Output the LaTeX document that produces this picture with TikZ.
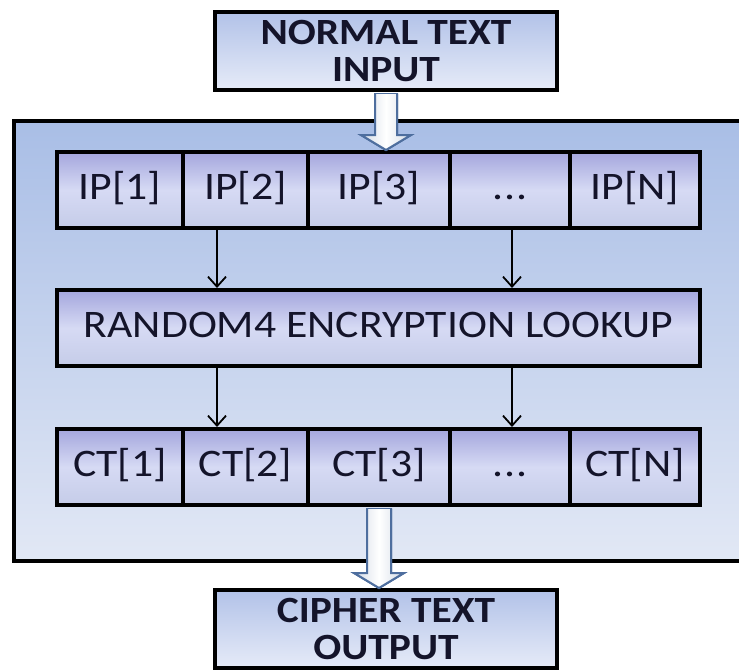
\documentclass[tikz,border=0pt]{standalone}
\usepackage{fontspec}
\setmainfont{Carlito}[FakeStretch=1.12]
\usetikzlibrary{arrows.meta,calc}
\definecolor{txt}{HTML}{14142A}
\definecolor{outtop}{HTML}{A9BEE6}
\definecolor{outbot}{HTML}{E2E8F5}
\definecolor{celltop}{HTML}{A4A6DD}
\definecolor{cellmid}{HTML}{D6DAF4}
\definecolor{cellbot}{HTML}{C5CCE8}
\definecolor{iotop}{HTML}{B2C2E8}
\definecolor{iobot}{HTML}{E6EBF8}
\definecolor{hollow}{HTML}{4E6E9E}
\begin{document}
\begin{tikzpicture}[x=1pt,y=-1pt,
  outerbox/.style={draw=black,line width=4pt,top color=outtop,bottom color=outbot,
    minimum width=760pt,minimum height=440pt,anchor=north west,inner sep=0pt},
  cell/.style={draw=black,line width=4pt,top color=celltop,bottom color=cellbot,middle color=cellmid,
    minimum height=76pt,inner sep=0pt,text=txt,font=\fontsize{39}{42}\selectfont,
    text height=27pt,text depth=8pt},
  iobox/.style={draw=black,line width=4pt,top color=iotop,bottom color=iobot,
    minimum width=342pt,minimum height=78pt,inner sep=0pt,align=center,text=txt,
    font=\bfseries\fontsize{37}{37}\selectfont},
  thin/.style={draw=black,line width=1.8pt,-{Straight Barb[length=10pt,width=18pt,line width=1.8pt]}},
  hollowarrow/.style={draw=hollow,line width=2pt,left color=hollow!25,right color=hollow!25,middle color=white,line join=miter}
]
\useasboundingbox (0,0) rectangle (739,670);
\begin{scope}
\clip (0,0) rectangle (739,670);
\node[outerbox] (outer) at (12,119) {};
\end{scope}

% input / output boxes
\node[iobox] (in) at (386,51) {NORMAL TEXT\\INPUT};
\node[iobox] (out) at (386,629) {CIPHER TEXT\\OUTPUT};

% IP row
\node[cell,minimum width=126pt] (ip1) at (120,190) {IP[1]};
\node[cell,minimum width=125pt] (ip2) at (245.5,190) {IP[2]};
\node[cell,minimum width=142pt] (ip3) at (379,190) {IP[3]};
\node[cell,minimum width=120pt] (ip4) at (510,190) {.\kern1pt.\kern1pt.};
\node[cell,minimum width=130pt] (ip5) at (635,190) {IP[N]};

% lookup
\node[cell,minimum width=643pt] (look) at (378.5,328) {RANDOM4 ENCRYPTION LOOKUP};

% CT row
\node[cell,minimum width=126pt] (ct1) at (120,467) {CT[1]};
\node[cell,minimum width=125pt] (ct2) at (245.5,467) {CT[2]};
\node[cell,minimum width=142pt] (ct3) at (379,467) {CT[3]};
\node[cell,minimum width=120pt] (ct4) at (510,467) {.\kern1pt.\kern1pt.};
\node[cell,minimum width=130pt] (ct5) at (635,467) {CT[N]};

% thin arrows
\coordinate (a) at (217,0);
\coordinate (b) at (512,0);
\draw[thin] (ip2.south -| a) -- (look.north -| a);
\draw[thin] (ip4.south -| b) -- (look.north -| b);
\draw[thin] (look.south -| a) -- (ct2.north -| a);
\draw[thin] (look.south -| b) -- (ct4.north -| b);

% hollow arrows
\path (in.south) ++(0,2) coordinate (h1s);
\path (ip3.north -| h1s) coordinate (h1e);
\fill[hollowarrow] ($(h1s)+(-11,0)$) -- ($(h1s)+(11,0)$) -- ($(h1e)+(11,-15)$) -- ($(h1e)+(25,-15)$)
  -- (h1e) -- ($(h1e)+(-25,-15)$) -- ($(h1e)+(-11,-15)$) -- cycle;
\draw[hollowarrow,fill=none] ($(h1s)+(-11,0)$) -- ($(h1e)+(-11,-15)$) -- ($(h1e)+(-25,-15)$) -- (h1e)
  -- ($(h1e)+(25,-15)$) -- ($(h1e)+(11,-15)$) -- ($(h1s)+(11,0)$);

\path (ct3.south) ++(0,2) coordinate (h2s);
\path (out.north -| h2s) coordinate (h2e);
\fill[hollowarrow] ($(h2s)+(-12,0)$) -- ($(h2s)+(12,0)$) -- ($(h2e)+(12,-15)$) -- ($(h2e)+(25,-15)$)
  -- (h2e) -- ($(h2e)+(-25,-15)$) -- ($(h2e)+(-12,-15)$) -- cycle;
\draw[hollowarrow,fill=none] ($(h2s)+(-12,0)$) -- ($(h2e)+(-12,-15)$) -- ($(h2e)+(-25,-15)$) -- (h2e)
  -- ($(h2e)+(25,-15)$) -- ($(h2e)+(12,-15)$) -- ($(h2s)+(12,0)$);
\end{tikzpicture}
\end{document}
